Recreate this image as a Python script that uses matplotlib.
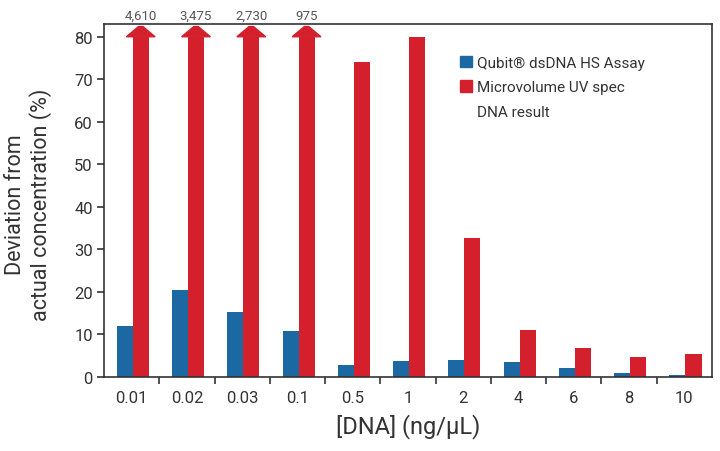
import numpy as np
import matplotlib.pyplot as plt
from matplotlib.patches import Polygon, Patch

plt.rcParams['font.family'] = ['Roboto', 'DejaVu Sans']

# data
conc = ['0.01', '0.02', '0.03', '0.1', '0.5', '1', '2', '4', '6', '8', '10']
qubit = [12.0, 20.5, 15.3, 10.8, 2.9, 3.8, 4.1, 3.5, 2.1, 1.0, 0.4]
uvspec = [4610, 3475, 2730, 975, 74.1, 80.0, 32.7, 11.0, 6.8, 4.6, 5.4]

cap = 80
blue = '#1b68a3'
red = '#d3202c'
dark = '#333333'

fig = plt.figure(figsize=(7.2, 4.52), dpi=100)
ax = fig.add_axes([0.1444, 0.1637, 0.8445, 0.7810])

x = np.arange(len(conc))
w = 0.29
uv_shown = [min(v, cap) for v in uvspec]
ax.bar(x - w / 2 + 0.02, qubit, w, color=blue)
ax.bar(x + w / 2 + 0.02, uv_shown, w, color=red)

# arrows and labels for off-scale values
for i, v in enumerate(uvspec):
    if v > cap:
        xc = x[i] + w / 2 + 0.02
        head = Polygon([[xc - 0.26, cap], [xc + 0.26, cap], [xc + 0.04, 82.4],
                        [xc - 0.04, 82.4]], closed=True, color=red, clip_on=False)
        ax.add_patch(head)
        ax.text(xc, 85.0, f'{v:,}', ha='center', va='center', fontsize=9.5,
                color='#555555')

ax.set_xlim(-0.5, len(conc) - 0.5)
ax.set_ylim(0, 83)
ax.set_yticks(np.arange(0, 81, 10))
ax.set_xticks(x)
ax.set_xticklabels(conc)
ax.set_xticks(np.arange(0.5, len(conc) - 0.5, 1), minor=True)
ax.tick_params(axis='x', which='major', length=0, pad=9, labelsize=12, labelcolor=dark)
ax.tick_params(axis='x', which='minor', length=5, width=1.2, color=dark)
ax.tick_params(axis='y', length=5, width=1.2, color=dark, labelsize=12, labelcolor=dark, pad=3)

for s in ax.spines.values():
    s.set_color(dark)
    s.set_linewidth(1.2)

ax.set_ylabel('Deviation from\nactual concentration (%)', fontsize=15.5, color=dark,
              labelpad=16, linespacing=1.2)
ax.yaxis.set_label_coords(-0.085, 0.49)
ax.set_xlabel('[DNA] (ng/µL)', fontsize=17, color=dark, labelpad=6)

handles = [Patch(color=blue), Patch(color=red), Patch(color='none')]
labels = ['Qubit® dsDNA HS Assay', 'Microvolume UV spec', 'DNA result']
ax.legend(handles, labels, loc='upper left', bbox_to_anchor=(0.585, 0.91),
          frameon=False, fontsize=11, labelcolor=dark, handlelength=0.8,
          handleheight=0.8, handletextpad=0.35, labelspacing=0.68, borderpad=0,
          borderaxespad=0)

fig.savefig('out.png', dpi=100)
